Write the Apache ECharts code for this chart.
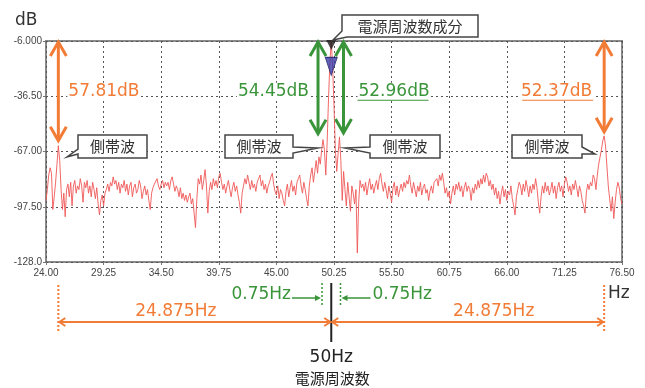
<!DOCTYPE html>
<html><head><meta charset="utf-8">
<script src="https://cdn.jsdelivr.net/npm/echarts@6/dist/echarts.min.js"></script>
<style>html,body{margin:0;padding:0;background:#fff}#c{width:645px;height:388px}</style>
</head><body><div id="c"></div>
<script>
// ---- data ----
const freqStart = 24.0, freqStep = 0.125;   // Hz, spectrum sampling
const levels = [
 -94,-88,-80,-76,-79,-99,-92,-84,
 -74,-63.81,-72,-88,-99,-90,-103,-88,
 -85,-92,-84,-97,-86,-83,-90,-86,
 -88,-82,-86,-95,-84,-87,-83,-90,
 -86,-92,-84,-88,-93,-87,-96,-102,
 -94,-91,-97,-90,-88,-85,-89,-84,
 -86,-81,-85,-83,-88,-84,-90,-85,
 -87,-83,-89,-85,-91,-86,-84,-92,
 -87,-85,-90,-88,-83,-86,-93,-89,
 -86,-91,-88,-94,-99,-90,-87,-85,
 -84,-82,-86,-88,-85,-83,-87,-84,
 -86,-84,-88,-83,-81,-85,-89,-86,
 -88,-92,-87,-93,-90,-94,-91,-95,
 -92,-90,-96,-93,-101,-109,-93,-82,
 -85,-80,-88,-83,-77,-86,-101,-89,
 -84,-88,-82,-86,-83,-87,-81,-79,
 -84,-88,-85,-90,-86,-83,-88,-92,
 -87,-84,-89,-86,-91,-95,-101,-90,
 -86,-82,-85,-80,-84,-88,-83,-87,
 -85,-89,-84,-82,-80,-86,-83,-88,
 -85,-90,-86,-84,-81,-79,-85,-89,
 -91,-86,-93,-88,-90,-94,-97,-89,
 -85,-92,-87,-83,-89,-86,-91,-84,
 -82,-80,-86,-90,-84,-88,-93,-97,
 -86,-80,-76,-84,-78,-72,-79,-70,
 -74,-66,-60.45,-66,-80,-62,-38,-18,
 -6,-20,-42,-66,-78,-68,-58.96,-72,
 -94,-78,-88,-97,-84,-92,-100,-86,
 -90,-96,-88,-123,-95,-83,-87,-85,
 -89,-84,-91,-86,-82,-88,-85,-90,
 -86,-83,-88,-82,-79,-85,-89,-84,
 -88,-93,-86,-90,-95,-87,-84,-91,
 -86,-92,-88,-85,-89,-84,-87,-83,
 -85,-80,-86,-90,-84,-88,-92,-86,
 -89,-84,-91,-87,-85,-90,-88,-94,
 -89,-86,-90,-84,-85,-82,-86,-80,
 -83,-79,-84,-90,-87,-92,-89,-96,
 -90,-86,-91,-85,-88,-84,-89,-86,
 -92,-87,-84,-89,-86,-88,-94,-87,
 -90,-85,-88,-83,-87,-82,-85,-80,
 -84,-79,-81,-86,-83,-88,-85,-91,
 -87,-93,-89,-96,-90,-86,-92,-88,
 -94,-89,-91,-86,-93,-97,-102,-92,
 -88,-84,-86,-91,-85,-89,-83,-87,
 -92,-86,-90,-85,-88,-82,-87,-95,
 -101,-92,-86,-90,-84,-89,-86,-91,
 -88,-84,-90,-86,-93,-87,-84,-89,
 -86,-92,-85,-81,-84,-89,-86,-91,
 -85,-88,-83,-87,-92,-86,-89,-94,
 -97,-101,-90,-85,-88,-84,-86,-80,
 -82,-88,-80,-74,-70,-66,-61,-58.37,
 -64,-75,-86,-93,-100,-92,-104,-95,
 -88,-84,-87,-93,-96
];
const xTickLabels = ['24.00','29.25','34.50','39.75','45.00','50.25','55.50','60.75','66.00','71.25','76.50'];
const yTickLabels = ['-128.0','-97.50','-67.00','-36.50','-6.000'];
const xMin = 24, xMax = 76.5, xInterval = 5.25;
const yMin = -128, yMax = -6, yInterval = 30.5;
const powerFreq = 50, powerLevel = -6;
const sidebandFreqs  = [25.125, 49.25, 50.75, 74.875];
const sidebandLevels = [-63.81, -60.45, -58.96, -58.37];
const sidebandDiffLabels = ['57.81dB', '54.45dB', '52.96dB', '52.37dB'];
const markerLevels = [-8.2, -20.0];   // black / blue cursor markers at 50 Hz
const offsetLabels = ['0.75Hz', '24.875Hz'];

// ---- chart ----
const chart = echarts.init(document.getElementById('c'), null, {renderer: 'canvas'});
const seriesData = levels.map((v, i) => [freqStart + i * freqStep - xMin, v - yMin]);
const ORANGE = '#f27b36', GREEN = '#3a953a', DARK = '#333';
const NUMFONT = 'DejaVu Sans';
const CJK = '"Noto Sans CJK JP"';

chart.setOption({
  animation: false,
  backgroundColor: '#fff',
  grid: {left: 46, right: 23, top: 41, bottom: 126, show: true, borderColor: '#8a8a8a', borderWidth: 2, backgroundColor: '#fff'},
  xAxis: {
    type: 'value', min: 0, max: xMax - xMin, interval: xInterval,
    axisLine: {show: false},
    axisTick: {show: true, length: 3, lineStyle: {color: '#777'}},
    axisLabel: {fontSize: 10, fontFamily: 'Liberation Sans', color: '#444', margin: 6,
      formatter: v => xTickLabels[Math.round(v / xInterval)]},
    splitLine: {show: true, lineStyle: {color: '#555', width: 1, type: [2, 3]}}
  },
  yAxis: {
    type: 'value', min: 0, max: yMax - yMin, interval: yInterval,
    axisLine: {show: false},
    axisTick: {show: true, length: 3, lineStyle: {color: '#777'}},
    axisLabel: {fontSize: 10, fontFamily: 'Liberation Sans', color: '#444', margin: 4,
      formatter: v => yTickLabels[Math.round(v / yInterval)]},
    splitLine: {show: true, lineStyle: {color: '#555', width: 1, type: [2, 3]}}
  },
  series: [
    {type: 'line', data: seriesData, showSymbol: false, symbol: 'none',
     lineStyle: {color: '#f05858', width: 1, opacity: 0.9}, z: 3},
    {type: 'scatter', z: 5, symbol: 'triangle', symbolRotate: 180,
     data: [
       {value: [powerFreq - xMin, markerLevels[0] - yMin], symbolSize: [10, 10], itemStyle: {color: '#1a1a1a'}},
       {value: [powerFreq - xMin, markerLevels[1] - yMin], symbolSize: [12, 18], itemStyle: {color: '#3b3ba8', borderColor: '#22226a', borderWidth: 1}}
     ]}
  ]
});

const px = (hz, db) => chart.convertToPixel({gridIndex: 0}, [hz - xMin, db - yMin]);

function vArrow(x, y1, y2, color, lw, hw, hh) {
  return [
    {type: 'line', shape: {x1: x, y1: y1 + 1, x2: x, y2: y2 - 1}, style: {stroke: color, lineWidth: lw}},
    {type: 'polyline', shape: {points: [[x - hw, y1 + hh], [x, y1], [x + hw, y1 + hh]]}, style: {stroke: color, lineWidth: lw, fill: null}},
    {type: 'polyline', shape: {points: [[x - hw, y2 - hh], [x, y2], [x + hw, y2 - hh]]}, style: {stroke: color, lineWidth: lw, fill: null}}
  ];
}
function hArrow(x1, x2, y, color, lw, hw, hh) {
  return [
    {type: 'line', shape: {x1: x1, y1: y, x2: x2, y2: y}, style: {stroke: color, lineWidth: lw}},
    {type: 'polyline', shape: {points: [[x1 + hh, y - hw], [x1, y], [x1 + hh, y + hw]]}, style: {stroke: color, lineWidth: lw, fill: null}},
    {type: 'polyline', shape: {points: [[x2 - hh, y - hw], [x2, y], [x2 - hh, y + hw]]}, style: {stroke: color, lineWidth: lw, fill: null}}
  ];
}
function text(t, x, y, color, size, family, align, extra) {
  return Object.assign({type: 'text', x: x, y: y, z: 120,
    style: Object.assign({text: t, fill: color, fontSize: size, fontFamily: family, align: align || 'left', verticalAlign: 'middle'}, extra || {})});
}
function vDotted(x, y1, y2, color, lw) {
  return {type: 'line', shape: {x1: x, y1: y1, x2: x, y2: y2}, style: {stroke: color, lineWidth: lw, lineDash: [2, 2]}};
}
function callout(points, label, cx, cy) {
  return [
    {type: 'polygon', z: 110, shape: {points: points}, style: {fill: '#fff', stroke: '#454545', lineWidth: 1.5}},
    text(label, cx, cy, DARK, 15, CJK, 'center')
  ];
}

const g = [];
const topY = px(powerFreq, powerLevel)[1] + 1;
const sb = sidebandFreqs.map((f, k) => px(f, sidebandLevels[k]));
const labelY = px(xMin, -36.5)[1] - 5;

// vertical level-difference arrows
g.push(...vArrow(sb[0][0], topY, sb[0][1] - 5, ORANGE, 3, 8, 14));
g.push(...vArrow(sb[1][0] - 5, topY, sb[1][1] - 6, GREEN, 3, 8, 14));
g.push(...vArrow(sb[2][0] + 4, topY, sb[2][1] - 4, GREEN, 3, 8, 14));
g.push(...vArrow(sb[3][0], topY, sb[3][1] - 4, ORANGE, 3, 8, 14));

const bg = {backgroundColor: '#fff', padding: [0, 1]};
g.push(text(sidebandDiffLabels[0], sb[0][0] + 9, labelY, ORANGE, 17, NUMFONT, 'left', bg));
g.push(text(sidebandDiffLabels[1], sb[1][0] - 13, labelY, GREEN, 17, NUMFONT, 'right', bg));
g.push(text(sidebandDiffLabels[2], sb[2][0] + 18, labelY, GREEN, 17, NUMFONT, 'left', bg));
g.push({type: 'line', z: 121, shape: {x1: sb[2][0] + 18, y1: labelY + 9, x2: sb[2][0] + 89, y2: labelY + 9}, style: {stroke: GREEN, lineWidth: 1.2}});
g.push(text(sidebandDiffLabels[3], sb[3][0] - 11, labelY, ORANGE, 17, NUMFONT, 'right', bg));
g.push({type: 'line', z: 121, shape: {x1: sb[3][0] - 82, y1: labelY + 9, x2: sb[3][0] - 11, y2: labelY + 9}, style: {stroke: ORANGE, lineWidth: 1.2}});

// callouts
g.push(...callout([[78,135],[147,135],[147,158],[78,158],[78,154],[67,157],[78,149]], '側帯波', 112.5, 146.5));
g.push(...callout([[225,135],[293,135],[293,147],[318,148],[293,153],[293,158],[225,158]], '側帯波', 259, 146.5));
g.push(...callout([[370,135],[440,135],[440,158],[370,158],[370,153],[345,148],[370,147]], '側帯波', 405, 146.5));
g.push(...callout([[512,135],[582,135],[582,147],[595,154],[582,154],[582,158],[512,158]], '側帯波', 547, 146.5));
g.push(...callout([[342,15],[478,15],[478,37],[347,37],[333,40],[342,31]], '電源周波数成分', 410, 26));

// axis titles
g.push(text('dB', 15, 21, DARK, 17, NUMFONT, 'left'));
g.push(text('Hz', 608, 294, DARK, 17, NUMFONT, 'left'));

// bottom frequency annotations
const xc = px(powerFreq, yMin)[0];
const xl = sb[1][0], xr = sb[2][0], xo1 = sb[0][0], xo2 = sb[3][0];
g.push(vDotted(xo1, 285, 332, ORANGE, 2));
g.push(vDotted(xo2, 285, 332, ORANGE, 2));
g.push(vDotted(xl - 1, 283, 305, GREEN, 1.5));
g.push(vDotted(xr + 1, 283, 305, GREEN, 1.5));
g.push({type: 'line', shape: {x1: xc, y1: 283, x2: xc, y2: 342}, style: {stroke: '#222', lineWidth: 2}});
g.push({type: 'line', shape: {x1: xl - 31, y1: 298, x2: xl - 6, y2: 298}, style: {stroke: GREEN, lineWidth: 1.5}});
g.push({type: 'polygon', shape: {points: [[xl - 2, 298], [xl - 8, 295], [xl - 8, 301]]}, style: {fill: GREEN}});
g.push({type: 'line', shape: {x1: xr + 31, y1: 298, x2: xr + 6, y2: 298}, style: {stroke: GREEN, lineWidth: 1.5}});
g.push({type: 'polygon', shape: {points: [[xr + 2, 298], [xr + 8, 295], [xr + 8, 301]]}, style: {fill: GREEN}});
g.push(text(offsetLabels[0], xl - 32, 295, GREEN, 17, NUMFONT, 'right'));
g.push(text(offsetLabels[0], xr + 33, 295, GREEN, 17, NUMFONT, 'left'));
g.push(...hArrow(xo1 + 1, xc - 1, 322, ORANGE, 2, 4, 6));
g.push(...hArrow(xc + 1, xo2 - 1, 322, ORANGE, 2, 4, 6));
g.push(text(offsetLabels[1], (xo1 + xc) / 2 - 19, 312, ORANGE, 17, NUMFONT, 'center'));
g.push(text(offsetLabels[1], (xc + xo2) / 2 + 26, 312, ORANGE, 17, NUMFONT, 'center'));
g.push(text('50Hz', xc, 358, '#222', 17, NUMFONT, 'center'));
g.push(text('電源周波数', xc + 1, 378, '#222', 15, CJK, 'center'));

chart.setOption({graphic: g.map(e => Object.assign({z: 100}, e, {z: e.z || 100}))});
</script>
</body></html>
